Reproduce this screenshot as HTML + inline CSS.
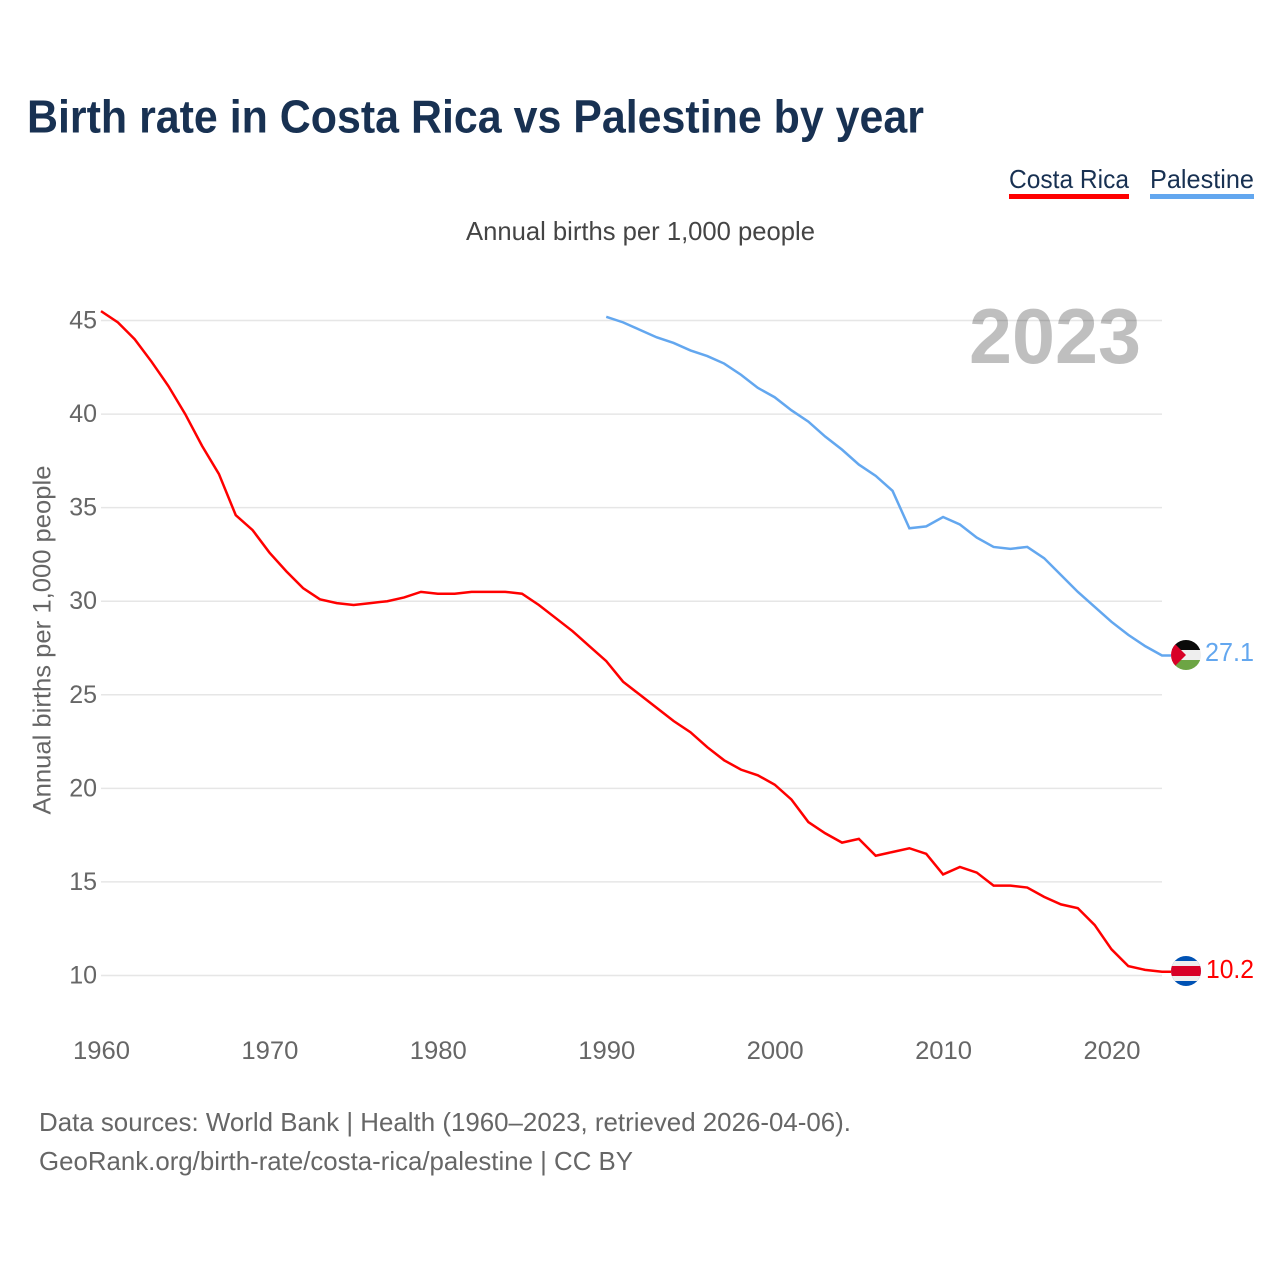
<!DOCTYPE html>
<html lang="en">
<head>
<meta charset="utf-8">
<title>Birth rate in Costa Rica vs Palestine by year</title>
<style>
html,body{margin:0;padding:0;background:#fff;width:1280px;height:1280px;overflow:hidden}
svg{display:block}
text{font-family:"Liberation Sans",sans-serif}
</style>
</head>
<body>
<svg id="chart" width="1280" height="1280" viewBox="0 0 1280 1280" xmlns="http://www.w3.org/2000/svg">
  <defs>
    <clipPath id="clip-pal"><circle cx="1186" cy="655" r="15"/></clipPath>
    <clipPath id="clip-cr"><circle cx="1186" cy="971" r="15"/></clipPath>
  </defs>
  <text x="27" y="132.5" font-size="46" font-weight="700" fill="#183152" textLength="897" lengthAdjust="spacingAndGlyphs">Birth rate in Costa Rica vs Palestine by year</text>

  <g>
    <g>
      <text x="1009" y="188" font-size="26" fill="#183152" textLength="120" lengthAdjust="spacingAndGlyphs">Costa Rica</text>
      <rect x="1009" y="194" width="120" height="5" fill="#ff0000"/>
    </g>
    <g>
      <text x="1150" y="188" font-size="26" fill="#183152" textLength="104" lengthAdjust="spacingAndGlyphs">Palestine</text>
      <rect x="1150" y="194" width="104" height="5" fill="#63a7ef"/>
    </g>
  </g>

  <text x="466" y="240" font-size="26" fill="#444444" textLength="349" lengthAdjust="spacingAndGlyphs">Annual births per 1,000 people</text>

  <g id="grid"></g>
  <g id="y-ticks"></g>
  <g id="x-ticks"></g>

  <text transform="translate(50.5,640) rotate(-90)" text-anchor="middle" font-size="25" fill="#666666" textLength="349" lengthAdjust="spacingAndGlyphs">Annual births per 1,000 people</text>

  <text x="969" y="363" font-size="78" font-weight="700" fill="#000000" fill-opacity="0.25" textLength="172" lengthAdjust="spacingAndGlyphs">2023</text>

  <g id="series"></g>

  <g clip-path="url(#clip-pal)">
    <rect x="1171" y="640" width="30" height="10" fill="#0a0a0a"/>
    <rect x="1171" y="650" width="30" height="10" fill="#eeeeee"/>
    <rect x="1171" y="660" width="30" height="10" fill="#6da544"/>
    <polygon points="1171,640 1186,655 1171,670" fill="#d80027"/>
  </g>
  <text id="label-pal" x="1205" y="661" font-size="26" fill="#63a7ef" textLength="49" lengthAdjust="spacingAndGlyphs"></text>

  <g clip-path="url(#clip-cr)">
    <rect x="1171" y="956" width="30" height="30" fill="#0052b4"/>
    <rect x="1171" y="961" width="30" height="20" fill="#eeeeee"/>
    <rect x="1171" y="966" width="30" height="10" fill="#d80027"/>
  </g>
  <text id="label-cr" x="1206" y="978" font-size="26" fill="#ff0000" textLength="48" lengthAdjust="spacingAndGlyphs"></text>

  <text x="39" y="1131" font-size="26" fill="#666666" textLength="812" lengthAdjust="spacingAndGlyphs">Data sources: World Bank | Health (1960–2023, retrieved 2026-04-06).</text>
  <text x="39" y="1170" font-size="26" fill="#666666" textLength="594" lengthAdjust="spacingAndGlyphs">GeoRank.org/birth-rate/costa-rica/palestine | CC BY</text>
</svg>
<script>
const costaRicaStartYear = 1960;
const palestineStartYear = 1990;
const yTickValues = [10, 15, 20, 25, 30, 35, 40, 45];
const xTickValues = [1960, 1970, 1980, 1990, 2000, 2010, 2020];
const costaRicaValues = [45.5, 44.9, 44.0, 42.8, 41.5, 40.0, 38.3, 36.8, 34.6, 33.8, 32.6, 31.6, 30.7, 30.1, 29.9, 29.8, 29.9, 30.0, 30.2, 30.5, 30.4, 30.4, 30.5, 30.5, 30.5, 30.4, 29.8, 29.1, 28.4, 27.6, 26.8, 25.7, 25.0, 24.3, 23.6, 23.0, 22.2, 21.5, 21.0, 20.7, 20.2, 19.4, 18.2, 17.6, 17.1, 17.3, 16.4, 16.6, 16.8, 16.5, 15.4, 15.8, 15.5, 14.8, 14.8, 14.7, 14.2, 13.8, 13.6, 12.7, 11.4, 10.5, 10.3, 10.2];
const palestineValues = [45.2, 44.9, 44.5, 44.1, 43.8, 43.4, 43.1, 42.7, 42.1, 41.4, 40.9, 40.2, 39.6, 38.8, 38.1, 37.3, 36.7, 35.9, 33.9, 34.0, 34.5, 34.1, 33.4, 32.9, 32.8, 32.9, 32.3, 31.4, 30.5, 29.7, 28.9, 28.2, 27.6, 27.1];

const SVG_NS = 'http://www.w3.org/2000/svg';
const FLAG_LEFT_X = 1171;
function xScale(year) { return 101 + (year - 1960) * (1162 - 101) / 63; }
function yScale(value) { return 975.5 - (value - 10) * (975.5 - 320.5) / 35; }
function linePath(values, startYear) {
  const last = values[values.length - 1];
  return values.map(function (v, i) {
    return (i ? 'L' : 'M') + xScale(startYear + i).toFixed(2) + ' ' + yScale(v).toFixed(2);
  }).join(' ') + ' L' + FLAG_LEFT_X + ' ' + yScale(last).toFixed(2);
}

const gridGroup = document.getElementById('grid');
const yTickGroup = document.getElementById('y-ticks');
const xTickGroup = document.getElementById('x-ticks');
const seriesGroup = document.getElementById('series');

yTickValues.forEach(function (v) {
  const line = document.createElementNS(SVG_NS, 'line');
  
  
  line.setAttribute('x1', 101);
  line.setAttribute('x2', 1162);
  line.setAttribute('y1', yScale(v));
  line.setAttribute('y2', yScale(v));
  line.setAttribute('stroke', '#e6e6e6');
  line.setAttribute('stroke-width', 1.5);
  gridGroup.appendChild(line);

  const label = document.createElementNS(SVG_NS, 'text');
  
  
  label.setAttribute('x', 97);
  label.setAttribute('y', yScale(v) + 8);
  label.setAttribute('text-anchor', 'end');
  label.setAttribute('font-size', 25);
  label.setAttribute('fill', '#666666');
  label.textContent = v;
  yTickGroup.appendChild(label);
});

xTickValues.forEach(function (year) {
  const label = document.createElementNS(SVG_NS, 'text');
  
  
  label.setAttribute('x', xScale(year) + 0.5);
  label.setAttribute('y', 1059);
  label.setAttribute('text-anchor', 'middle');
  label.setAttribute('font-size', 25);
  label.setAttribute('fill', '#666666');
  label.setAttribute('textLength', 57);
  label.setAttribute('lengthAdjust', 'spacingAndGlyphs');
  label.textContent = year;
  xTickGroup.appendChild(label);
});

const costaRicaLine = document.createElementNS(SVG_NS, 'path');


costaRicaLine.setAttribute('d', linePath(costaRicaValues, costaRicaStartYear));
costaRicaLine.setAttribute('fill', 'none');
costaRicaLine.setAttribute('stroke', '#ff0000');
costaRicaLine.setAttribute('stroke-width', 2.5);
seriesGroup.appendChild(costaRicaLine);

const palestineLine = document.createElementNS(SVG_NS, 'path');


palestineLine.setAttribute('d', linePath(palestineValues, palestineStartYear));
palestineLine.setAttribute('fill', 'none');
palestineLine.setAttribute('stroke', '#63a7ef');
palestineLine.setAttribute('stroke-width', 2.5);
seriesGroup.appendChild(palestineLine);

document.getElementById('label-cr').textContent = costaRicaValues[costaRicaValues.length - 1].toFixed(1);
document.getElementById('label-pal').textContent = palestineValues[palestineValues.length - 1].toFixed(1);
</script>
</body>
</html>
